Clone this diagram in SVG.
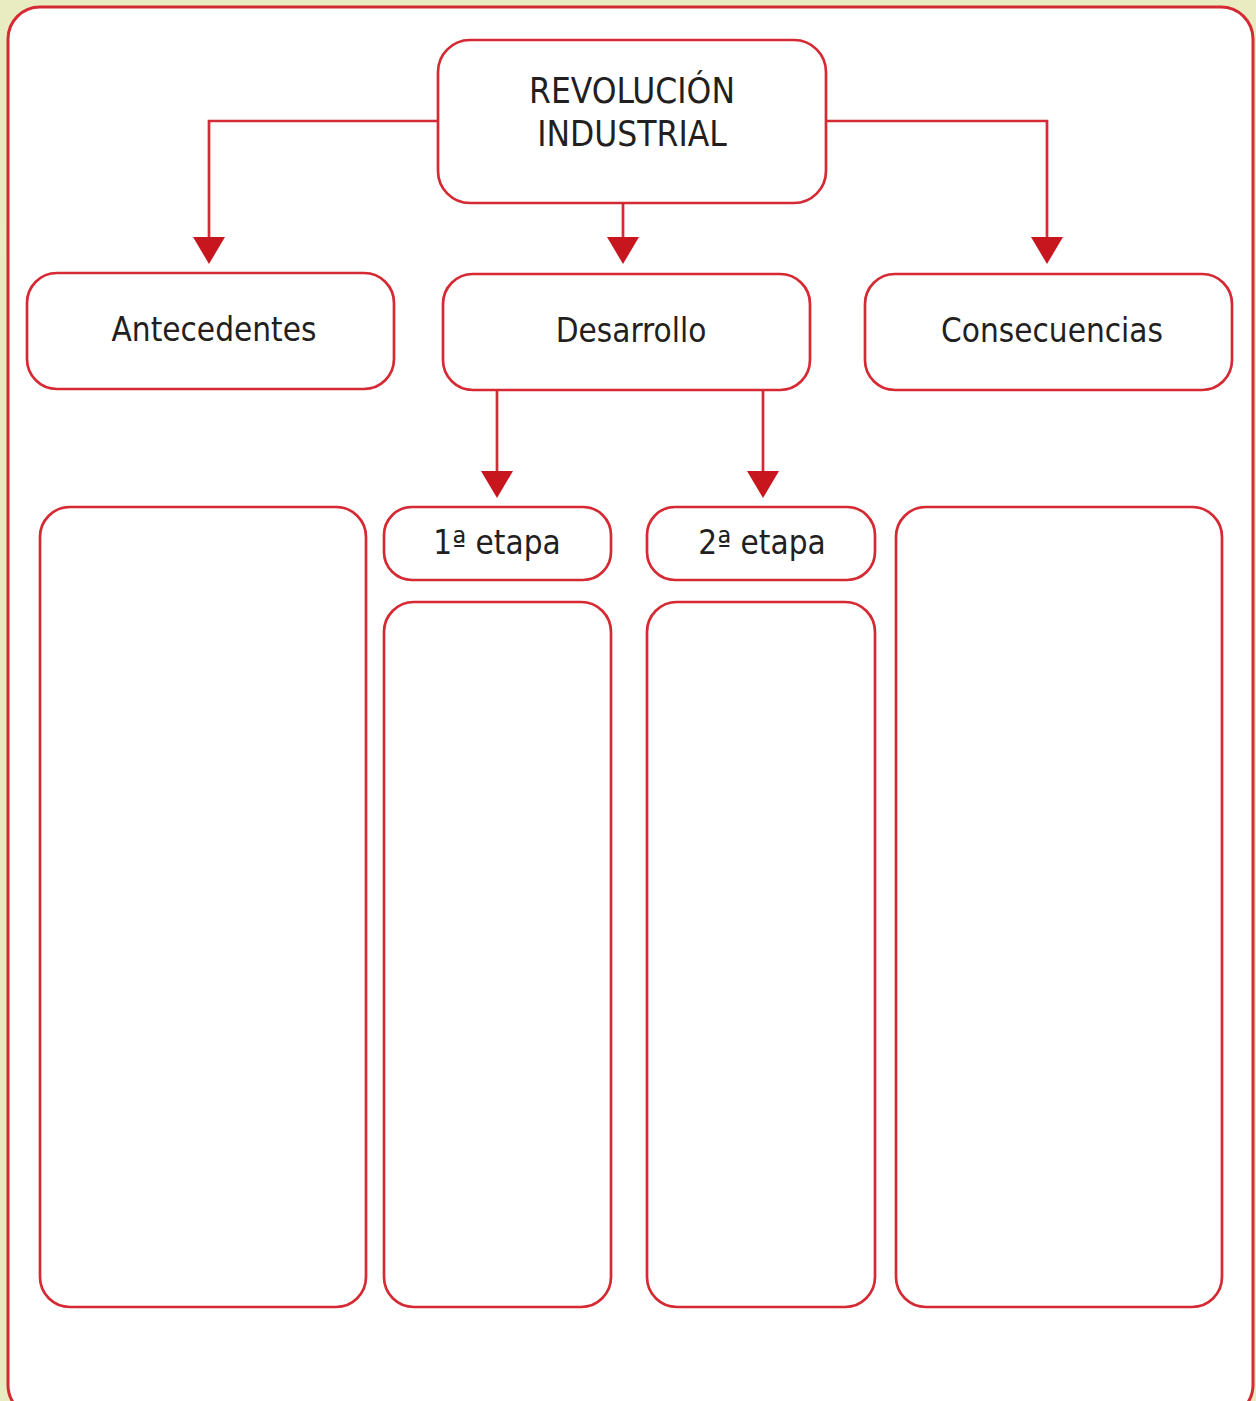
<svg xmlns="http://www.w3.org/2000/svg" width="1256" height="1401" viewBox="0 0 1256 1401">
<style>
.box{fill:#fff;stroke:#d52a33;stroke-width:2.7}
.ln{fill:none;stroke:#d52a33;stroke-width:2.7}
.ah{fill:#c8161f}
text{font-family:"DejaVu Sans Condensed","DejaVu Sans",sans-serif;font-size:33px;fill:#231f20;text-anchor:middle}
.t{font-size:35px}
</style>
<rect x="0" y="0" width="1256" height="1401" fill="#e9ebc0"/>
<rect x="8" y="7" width="1245" height="1410" rx="32" fill="#fff" stroke="#d52a33" stroke-width="3"/>
<g id="connectors">
<path class="ln" d="M438 121 H209 V240"/>
<polygon class="ah" points="193,237 225,237 209,264"/>
<path class="ln" d="M623 203 V240"/>
<polygon class="ah" points="607,237 639,237 623,264"/>
<path class="ln" d="M826 121 H1047 V240"/>
<polygon class="ah" points="1031,237 1063,237 1047,264"/>
<path class="ln" d="M497 390 V474"/>
<polygon class="ah" points="481,471 513,471 497,498"/>
<path class="ln" d="M763 390 V474"/>
<polygon class="ah" points="747,471 779,471 763,498"/>
</g>
<g id="revolucion"><rect class="box" x="438" y="40" width="388" height="163" rx="32"/><text class="t" x="632" y="103">REVOLUCIÓN</text><text class="t" x="632" y="146">INDUSTRIAL</text></g>
<g id="antecedentes"><rect class="box" x="27" y="273" width="367" height="116" rx="30"/><text x="214" y="341">Antecedentes</text></g>
<g id="desarrollo"><rect class="box" x="443" y="274" width="367" height="116" rx="30"/><text x="631" y="342">Desarrollo</text></g>
<g id="consecuencias"><rect class="box" x="865" y="274" width="367" height="116" rx="30"/><text x="1052" y="342">Consecuencias</text></g>
<g id="etapa1"><rect class="box" x="384" y="507" width="227" height="73" rx="28"/><text x="497" y="554">1ª etapa</text></g>
<g id="etapa2"><rect class="box" x="647" y="507" width="228" height="73" rx="28"/><text x="762" y="554">2ª etapa</text></g>
<g id="col-antecedentes"><rect class="box" x="40" y="507" width="326" height="800" rx="30"/></g>
<g id="col-etapa1"><rect class="box" x="384" y="602" width="227" height="705" rx="30"/></g>
<g id="col-etapa2"><rect class="box" x="647" y="602" width="228" height="705" rx="30"/></g>
<g id="col-consecuencias"><rect class="box" x="896" y="507" width="326" height="800" rx="30"/></g>
</svg>
